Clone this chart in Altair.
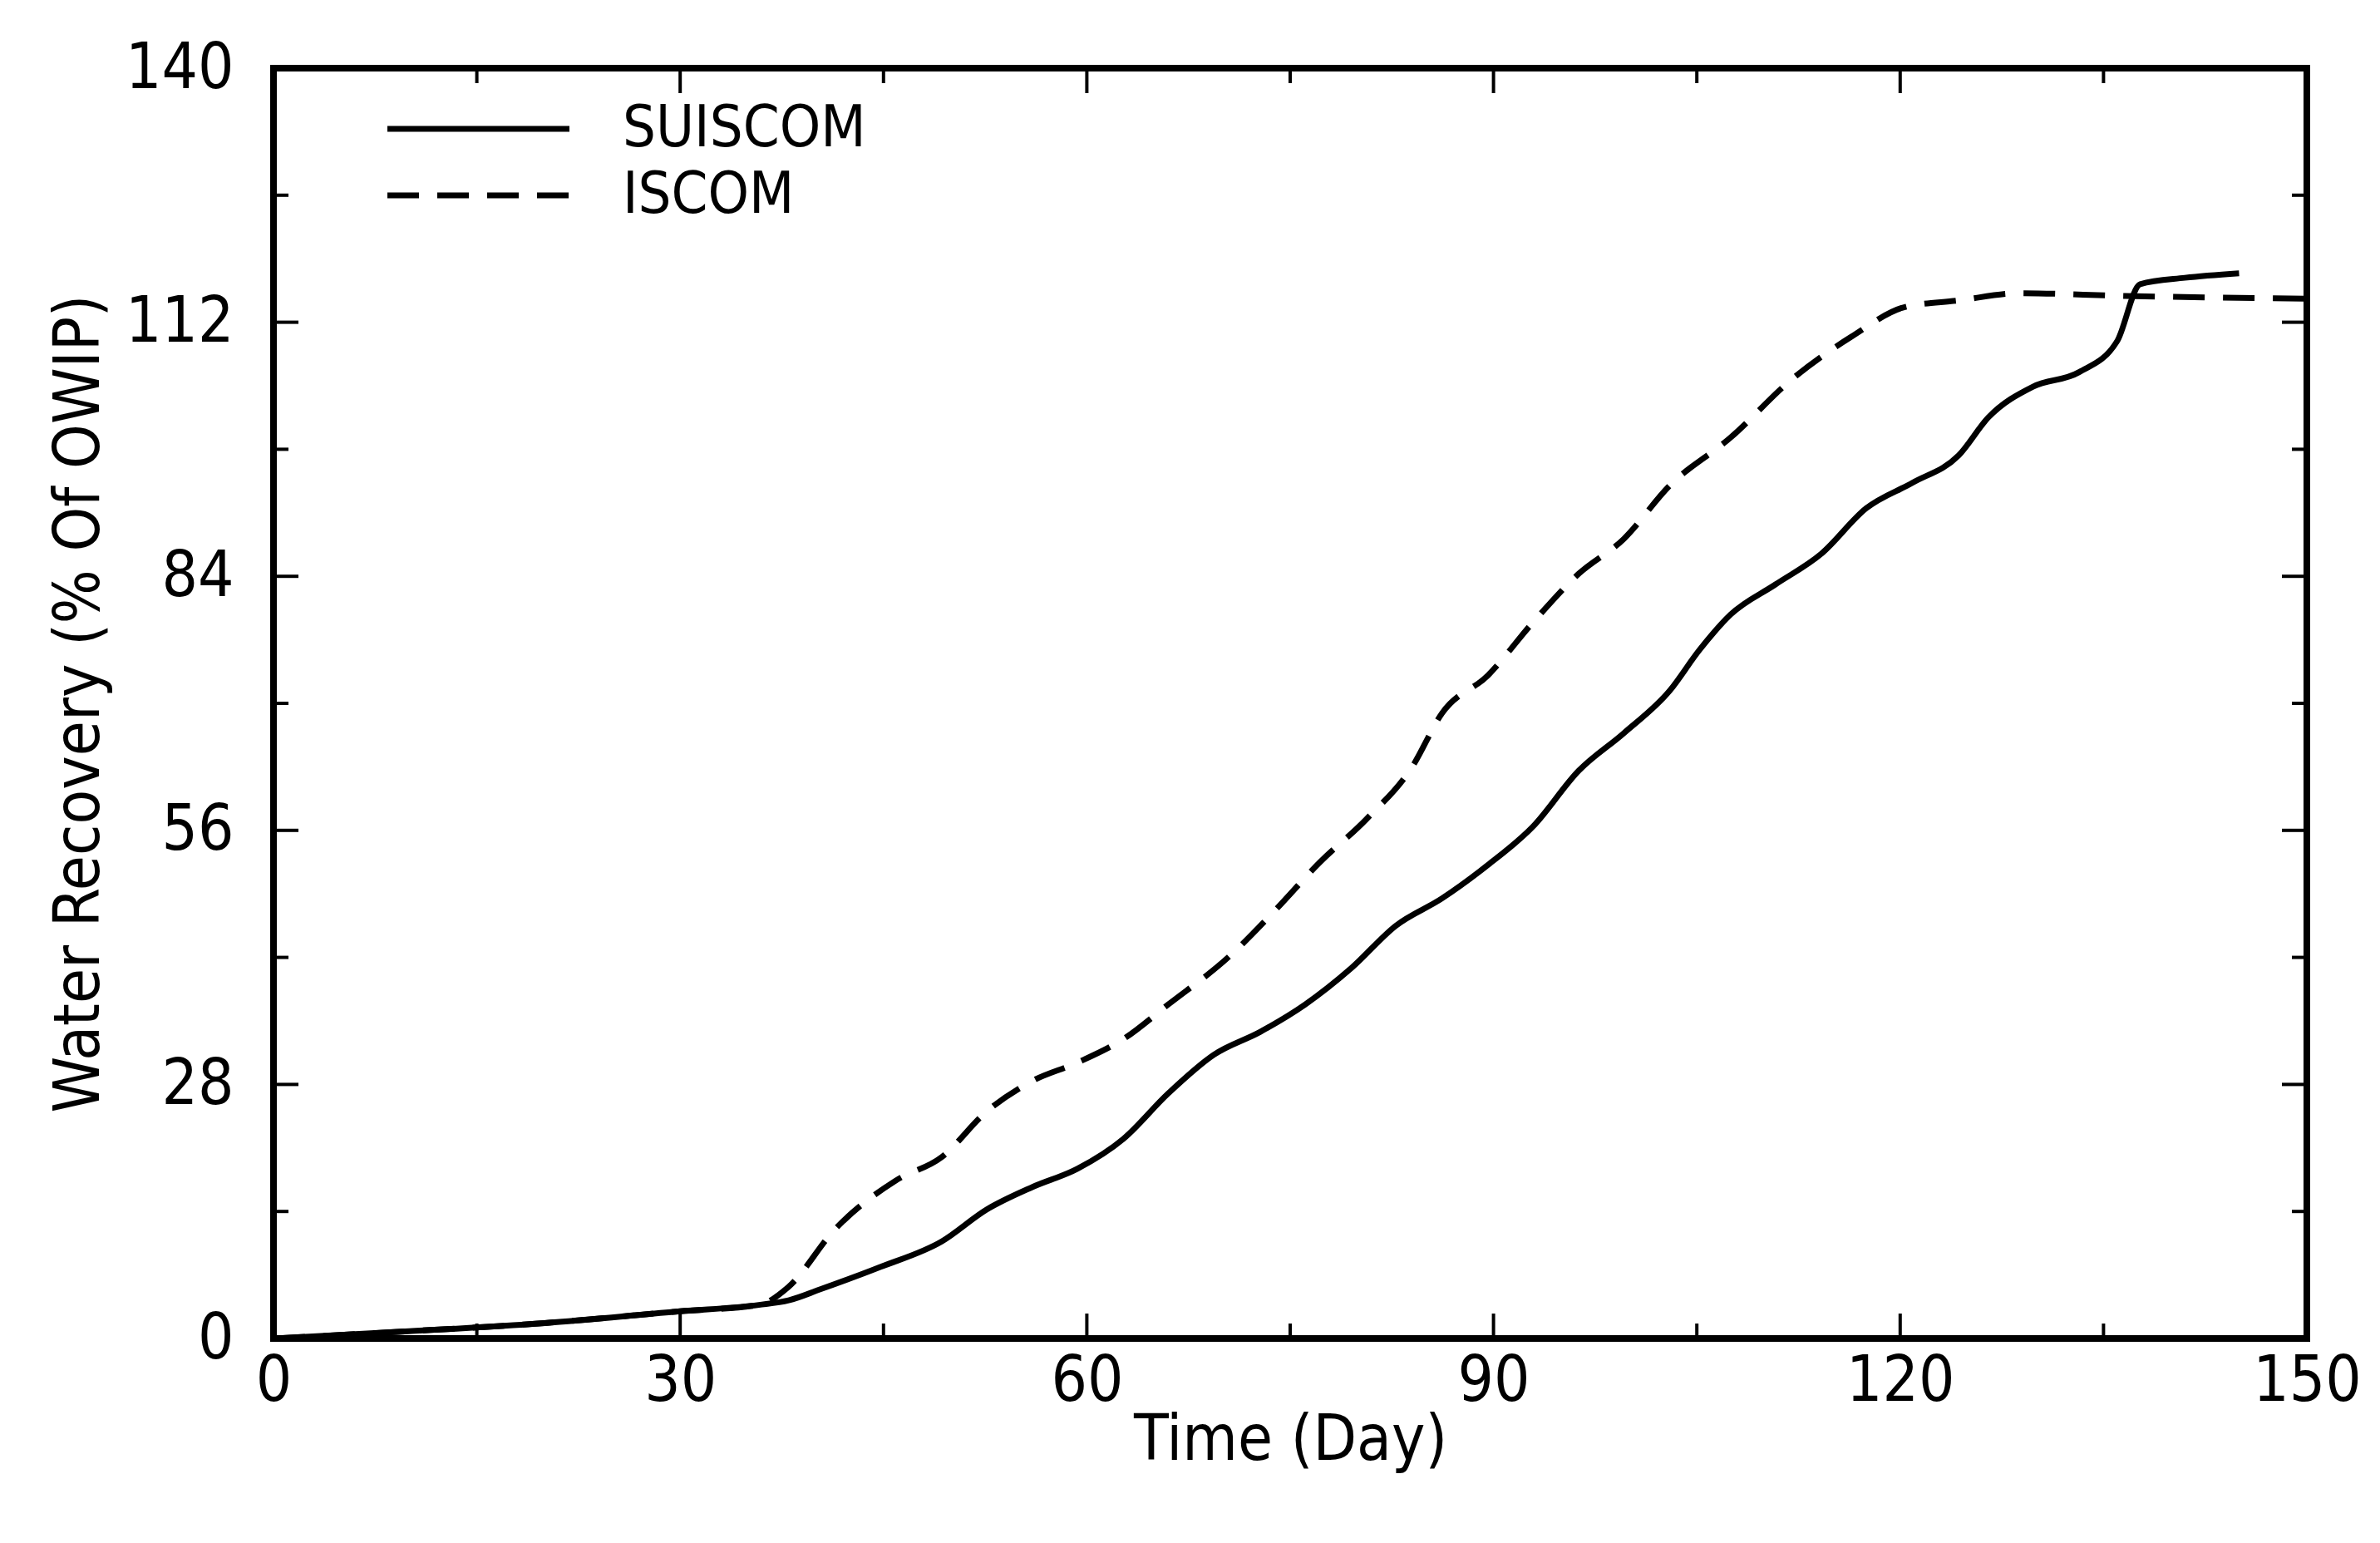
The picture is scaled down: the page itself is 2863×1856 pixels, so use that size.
import altair as alt
import pandas as pd

# ---- data ----
sui_day = [0, 10, 20, 30, 35.8, 38, 40.3, 44.8, 49.3, 52.6, 56, 59.3, 62.7, 66, 69.4, 72.8,
           76.1, 79.5, 82.8, 86.2, 89.6, 92.9, 96.3, 99.6, 103, 105.2, 107.5, 110.8, 114.2,
           117.5, 120.9, 124.3, 126.5, 129.8, 133.2, 136, 137.7, 141, 145]
sui_val = [0, 0.8, 1.7, 3.0, 3.7, 4.2, 5.4, 7.9, 10.7, 14.2, 16.7, 18.7, 22.0, 27.0, 31.3, 33.8,
           36.8, 40.8, 45.5, 48.5, 52.2, 56.4, 62.6, 66.7, 71.4, 75.9, 79.8, 83.1, 86.5,
           91.5, 94.3, 97.3, 101.5, 104.9, 106.5, 109.9, 116.2, 116.9, 117.4]

isc_day = [0, 10, 20, 30, 35.8, 38, 41.4, 45.9, 49.3, 52.6, 56, 59.3, 62.7, 66, 70.5, 73.9,
           77.2, 80.6, 84, 86.2, 89.6, 92.9, 96.3, 99.6, 103, 107.5, 112, 116.4, 120.4,
           124.3, 128.7, 136.6, 150]
isc_val = [0, 0.8, 1.7, 3.0, 3.7, 5.7, 12.0, 17.4, 20.0, 25.0, 28.4, 30.4, 33.0, 36.8, 42.1, 47.2,
           52.5, 57.2, 63.0, 68.9, 73.1, 78.9, 84.3, 88.1, 94.0, 99.3, 105.7, 110.4, 113.7,
           114.4, 115.2, 114.9, 114.6]

x_labels = [0, 30, 60, 90, 120, 150]
y_labels = [0, 28, 56, 84, 112, 140]
x_minor = [15, 45, 75, 105, 135]
y_minor = [14, 42, 70, 98, 126]
legend_names = ["SUISCOM", "ISCOM"]

W, H = 2446, 1528
FONT = "DejaVu Sans Condensed"
FS = 76
LFS = 70
LW = 7

xs = alt.Scale(domain=[0, 150], nice=False, zero=False)
ys = alt.Scale(domain=[0, 140], nice=False, zero=False)

sui = pd.DataFrame({"day": sui_day, "val": sui_val})
isc = pd.DataFrame({"day": isc_day, "val": isc_val})

xaxis = alt.Axis(values=x_labels, ticks=False, tickSize=0, domain=False, grid=False,
                 labelFlush=False, labelOverlap=False,
                 labelFont=FONT, labelFontSize=FS, labelColor="black", labelPadding=14,
                 title="Time (Day)", titleFont=FONT, titleFontSize=FS, titleFontWeight="normal",
                 titleColor="black", titlePadding=-4)
yaxis = alt.Axis(values=y_labels, ticks=False, tickSize=0, domain=False, grid=False,
                 labelFlush=False, labelOverlap=False,
                 labelFont=FONT, labelFontSize=FS, labelColor="black", labelPadding=48,
                 title="Water Recovery (% Of OWIP)", titleFont=FONT, titleFontSize=FS,
                 titleFontWeight="normal", titleColor="black", titlePadding=16)

line_sui = alt.Chart(sui).mark_line(color="black", strokeWidth=LW, interpolate="monotone").encode(
    x=alt.X("day:Q", scale=xs, axis=xaxis),
    y=alt.Y("val:Q", scale=ys, axis=yaxis),
)
line_isc = alt.Chart(isc).mark_line(color="black", strokeWidth=LW, strokeDash=[38, 22],
                                    interpolate="monotone").encode(
    x=alt.X("day:Q", scale=xs),
    y=alt.Y("val:Q", scale=ys),
)

MAJ, MIN = 30, 18
xt_major = pd.DataFrame({"t": x_labels})
xt_minor = pd.DataFrame({"t": x_minor})
yt_major = pd.DataFrame({"t": y_labels})
yt_minor = pd.DataFrame({"t": y_minor})

def xticks(df, L):
    b = alt.Chart(df).mark_rule(color="black", strokeWidth=4).encode(
        x=alt.X("t:Q", scale=xs), y=alt.value(H), y2=alt.value(H - L))
    t = alt.Chart(df).mark_rule(color="black", strokeWidth=4).encode(
        x=alt.X("t:Q", scale=xs), y=alt.value(0), y2=alt.value(L))
    return [b, t]

def yticks(df, L):
    l = alt.Chart(df).mark_rule(color="black", strokeWidth=4).encode(
        y=alt.Y("t:Q", scale=ys), x=alt.value(0), x2=alt.value(L))
    r = alt.Chart(df).mark_rule(color="black", strokeWidth=4).encode(
        y=alt.Y("t:Q", scale=ys), x=alt.value(W), x2=alt.value(W - L))
    return [l, r]

ticks = xticks(xt_major, MAJ) + xticks(xt_minor, MIN) + yticks(yt_major, MAJ) + yticks(yt_minor, MIN)

leg1 = pd.DataFrame({"name": [legend_names[0]]})
leg2 = pd.DataFrame({"name": [legend_names[1]]})
lg_line1 = alt.Chart(leg1).mark_rule(color="black", strokeWidth=LW).encode(
    x=alt.value(137), x2=alt.value(356), y=alt.value(73))
lg_line2 = alt.Chart(leg2).mark_rule(color="black", strokeWidth=LW, strokeDash=[38, 22]).encode(
    x=alt.value(137), x2=alt.value(356), y=alt.value(153))
lg_text1 = alt.Chart(leg1).mark_text(font=FONT, fontSize=LFS, align="left", baseline="middle",
                                     color="black").encode(
    x=alt.value(420), y=alt.value(73), text="name:N")
lg_text2 = alt.Chart(leg2).mark_text(font=FONT, fontSize=LFS, align="left", baseline="middle",
                                     color="black").encode(
    x=alt.value(420), y=alt.value(153), text="name:N")

chart = alt.layer(line_sui, line_isc, *ticks, lg_line1, lg_line2, lg_text1, lg_text2).properties(
    width=W, height=H,
    autosize=alt.AutoSizeParams(type="none"),
    padding={"left": 321, "top": 74, "right": 70, "bottom": 220},
    background="white",
).configure_view(stroke="black", strokeWidth=8)

chart.save("out.html", embed_options={"renderer": "svg", "actions": False})
